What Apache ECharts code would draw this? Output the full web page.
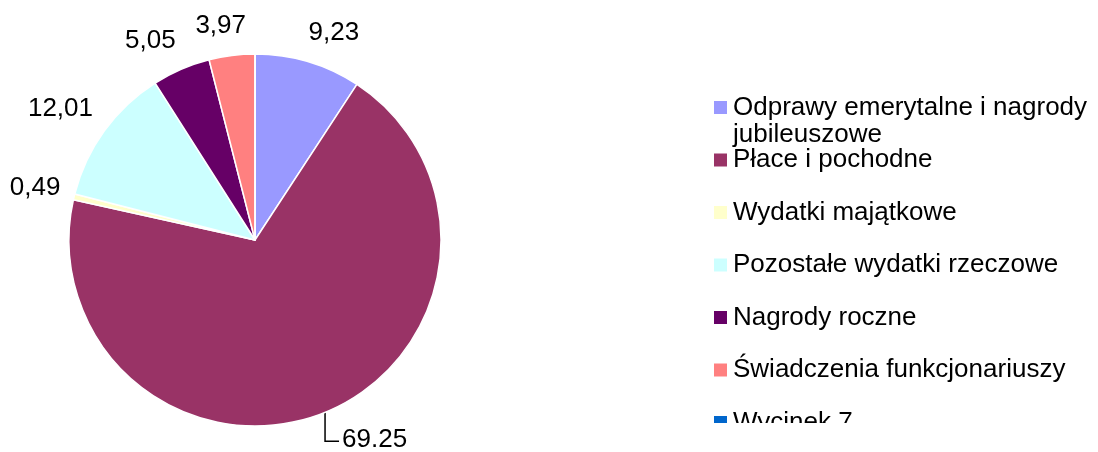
<!DOCTYPE html>
<html>
<head>
<meta charset="utf-8">
<script src="https://cdn.jsdelivr.net/npm/echarts@6/dist/echarts.min.js"></script>
<style>
html,body{margin:0;padding:0;background:#fff;}
#chart{width:1098px;height:452px;}
</style>
</head>
<body>
<div id="chart"></div>
<script>
var categories = ['Odprawy emerytalne i nagrody jubileuszowe', 'Płace i pochodne', 'Wydatki majątkowe', 'Pozostałe wydatki rzeczowe', 'Nagrody roczne', 'Świadczenia funkcjonariuszy', 'Wycinek 7'];
var values = [9.23, 69.25, 0.49, 12.01, 5.05, 3.97, 0];
var labelTexts = ['9,23', '69.25', '0,49', '12,01', '5,05', '3,97', ''];
var colors = ['#9999FF', '#993366', '#FFFFCC', '#CCFFFF', '#660066', '#FF8080', '#0066CC'];

var FONT = '"Liberation Sans", Arial, sans-serif';
var CX = 255, CY = 240, R = 186, LABEL_DIST = 200;
var chart = echarts.init(document.getElementById('chart'), null, {renderer: 'canvas'});

var total = values.reduce(function (a, b) { return a + b; }, 0);
var midAngles = [];
(function () {
  var acc = 0;
  values.forEach(function (v) {
    midAngles.push((acc + v / 2) / total * 2 * Math.PI); // clockwise from top
    acc += v;
  });
})();

function clamp(v) { return Math.max(-1, Math.min(1, v)); }

var data = categories.map(function (c, i) {
  var item = {
    name: c,
    value: values[i],
    itemStyle: {color: colors[i]},
    label: {show: values[i] > 0, formatter: labelTexts[i]}
  };
  if (i === 1) {
    item.labelLine = {show: true, lineStyle: {color: '#000', width: 1.5}};
  }
  return item;
});

var legends = categories.map(function (c, i) {
  var multi = (i === 0);
  return {
    data: [c],
    orient: 'vertical',
    left: 712,
    top: multi ? (107.5 - 40.5) : (107.5 + i * 52.5 - 13.5),
    padding: 0,
    itemWidth: 15,
    itemHeight: 15,
    icon: 'rect',
    selectedMode: false,
    formatter: multi ? '\nOdprawy emerytalne i nagrody\njubileuszowe' : '{name}',
    textStyle: {
      fontFamily: FONT,
      fontSize: 26,
      color: '#000',
      lineHeight: 27
    }
  };
});

function layoutLabel(params) {
  var i = params.dataIndex;
  var a = midAngles[i];
  var ux = Math.sin(a), uy = -Math.cos(a);
  var w = params.labelRect.width;
  if (i === 1) {
    var ex = CX + R * ux, ey = CY + R * uy;
    return {
      x: ex + 17, y: ey + 28,
      align: 'left', verticalAlign: 'middle',
      labelLinePoints: [[ex, ey], [ex, ey + 29], [ex + 14, ey + 29]]
    };
  }
  var px = CX + LABEL_DIST * ux, py = CY + LABEL_DIST * uy;
  return {
    x: px + clamp(3 * ux) * w / 2,
    y: py + clamp(1.5 * uy) * 16,
    align: 'center', verticalAlign: 'middle'
  };
}

chart.setOption({
  backgroundColor: '#fff',
  animation: false,
  legend: legends,
  graphic: [{
    type: 'rect',
    z: 1000,
    shape: {x: 700, y: 423, width: 398, height: 29},
    style: {fill: '#fff'}
  }],
  series: [{
    type: 'pie',
    center: [CX, CY],
    radius: [0, R],
    startAngle: 90,
    clockwise: true,
    avoidLabelOverlap: false,
    data: data,
    itemStyle: {borderColor: '#fff', borderWidth: 1.5},
    label: {
      show: true,
      position: 'outside',
      fontFamily: FONT,
      fontSize: 26,
      color: '#000'
    },
    labelLine: {show: false, length: 12, length2: 0},
    labelLayout: layoutLabel,
    emphasis: {disabled: true}
  }]
});
</script>
</body>
</html>
